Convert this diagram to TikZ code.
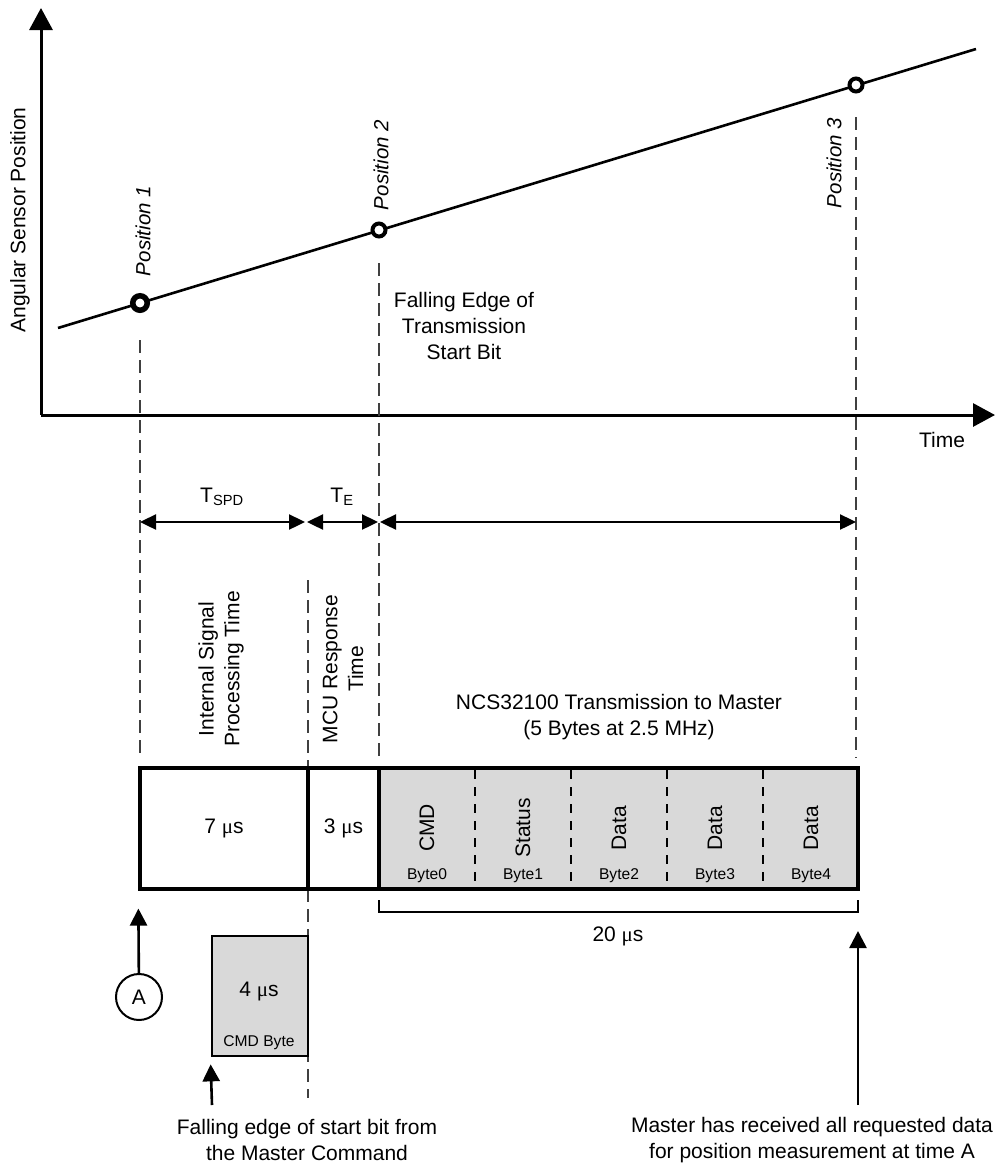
\documentclass[tikz,border=0pt]{standalone}
\usepackage{fontspec}
\setmainfont{Liberation Sans}
\newfontfamily\mufont{Liberation Serif}
\usepackage{tikz}
\usetikzlibrary{arrows.meta,positioning,calc}
\newcommand{\us}{{\mufont μ}s}

\begin{document}
\begin{tikzpicture}[x=1pt, y=-1pt,
        every node/.style={font=\fontsize{21}{25.7}\selectfont, inner sep=0pt},
        axis/.style={line width=3pt, -{Triangle[length=22pt,width=23pt]}},
        guide/.style={line width=1.4pt, gray!50!black, dash pattern=on 13pt off 7pt},
        dim/.style={line width=2.4pt, {Triangle[length=16pt,width=15pt]}-{Triangle[length=16pt,width=15pt]}},
        upar/.style={line width=2.6pt, -{Triangle[length=17pt,width=17pt]}},
        posdot/.style={circle, draw, fill=white, line width=4pt, minimum size=13pt},
        poslbl/.style={rotate=90, font=\fontsize{20.5}{25}\selectfont\itshape},
        seg/.style={draw, line width=3.2pt, minimum height=121pt},
        small/.style={font=\fontsize{15.6}{18}\selectfont}]
        \useasboundingbox (0,0) rectangle (996,1165);

        % axes and position curve
        \coordinate (o) at (41,415);
        \coordinate (ytip) at (41,8);
        \coordinate (xtip) at (995,415);
        \draw[axis] (o) -- (ytip);
        \draw[axis] (o) -- (xtip);
        \coordinate (s0) at (58,328);
        \coordinate (s1) at (976,49);
        \draw[line width=2.6pt] (s0) -- (s1);
        \node[posdot, line width=5.5pt, minimum size=14.5pt] (p1) at (140,303) {};
        \node[posdot] (p2) at (379,230) {};
        \node[posdot] (p3) at (856,85) {};
        \node[poslbl] (l1) at (143,231) {Position 1};
        \node[poslbl] (l2) at (381,165) {Position 2};
        \node[poslbl] (l3) at (834,163) {Position 3};
        \node[rotate=90] (ylbl) at (20,220) {Angular Sensor Position};
        \node (time) at (942,440) {Time};
        \node[align=center] (fe) at (464,326) {Falling Edge of\\Transmission\\Start Bit};

        % guide lines
        \draw[guide] (140,340) -- (140,758);
        \draw[guide] (379,263) -- (379,758);
        \draw[guide] (856,117) -- (856,758);
        \draw[guide] (308,580) -- (308,768);
        \draw[guide] (308,889) -- (308,1098);

        % time spans
        \coordinate (d0) at (140,522);
        \coordinate (d1) at (305,522);
        \coordinate (d2) at (307,522);
        \coordinate (d3) at (378,522);
        \coordinate (d4) at (380,522);
        \coordinate (d5) at (856,522);
        \draw[dim] (d0) -- (d1);
        \draw[dim] (d2) -- (d3);
        \draw[dim] (d4) -- (d5);
        \node (tspd) at (222,497) {T\textsubscript{SPD}};
        \node (te) at (342,497) {T\textsubscript{E}};

        \node[rotate=90, align=center] (isp) at (221,669) {Internal Signal\\Processing Time};
        \node[rotate=90, align=center] (mrt) at (343,669) {MCU Response\\Time};
        \node[align=center] (ncs) at (619,717) {NCS32100 Transmission to Master\\(5 Bytes at 2.5 MHz)};

        % frame row
        \node[seg, minimum width=168pt] (spd) at (224,828.5) {7 \us};
        \node[seg, minimum width=71pt] (mcu) at (343.5,828.5) {3 \us};
        \node[seg, fill=gray!30, minimum width=479pt] (tx) at (618.5,828.5) {};
        \foreach \x in {475,571,667,763}
            \draw[line width=2.7pt, dash pattern=on 9pt off 8pt] (\x,770) -- (\x,888);
        \foreach \lbl/\i in {CMD/0,Status/1,Data/2,Data/3,Data/4} {
            \node[rotate=90] (n\i) at ({427+96*\i},828) {\lbl};
            \node[small] (b\i) at ({427+96*\i},876) {Byte\i};
        }

        % 20 us bracket
        \draw[line width=2.7pt] (379,900) -- (379,912) -- (858,912) -- (858,900);
        \node (t20) at (618,936) {20 \us};

        % time A and master command
        \node[circle, draw, line width=2pt, minimum size=46pt] (a) at (139,997) {A};
        \draw[upar] (a) -- ([yshift=-18pt]spd.south west);
        \node[seg, fill=gray!30, line width=2.7pt, minimum width=96pt, minimum height=120pt] (cmd) at (260,996) {};
        \node (cmdt) at (259,992) {4 \us};
        \node[small] (cmdb) at (259,1043) {CMD Byte};
        \coordinate (fs) at (212,1105);
        \draw[upar] (fs) -- ([yshift=-7pt]cmd.south west);
        \node[align=center] (fall) at (307,1140) {Falling edge of start bit from\\the Master Command};
        \coordinate (ms) at (858,1105);
        \coordinate (mt) at (858,931);
        \draw[upar] (ms) -- (mt);
        \node[align=center] (mast) at (812,1140) {Master has received all requested data\\for position measurement at time A};
    \end{tikzpicture}
\end{document}
